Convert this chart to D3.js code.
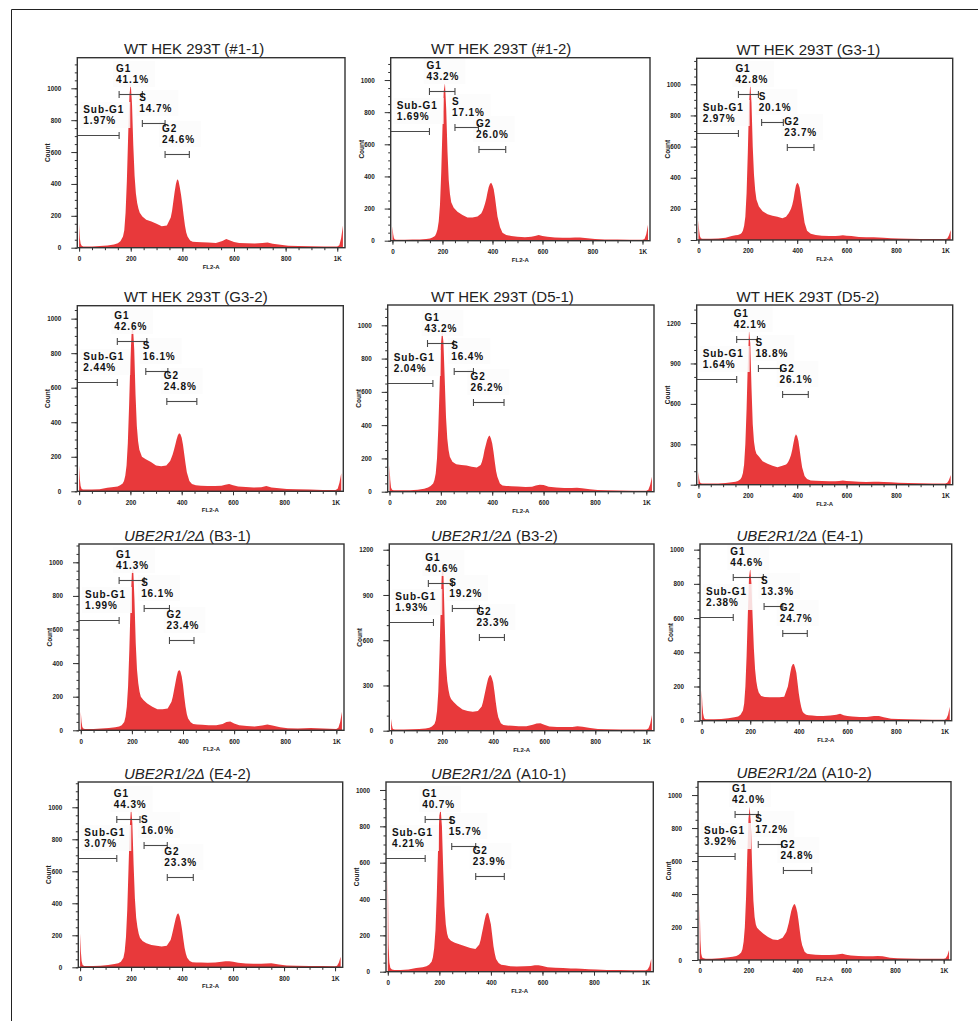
<!DOCTYPE html>
<html lang="en">
<head>
<meta charset="UTF-8">
<title>Cell cycle profiles</title>
<script src="https://cdnjs.cloudflare.com/ajax/libs/d3/7.8.5/d3.min.js"></script>
<style>
  body { margin: 0; background: #fff; font-family: "Liberation Sans", Arial, sans-serif; }
  .tick text { font-size: 6.3px; font-weight: bold; fill: #1c1c1c; }
  .tick line { stroke: #333; }
</style>
</head>
<body>
<div id="chart"></div>
<script>
// FL2-A channels shared by all the histograms
const channels = [0,3,6,10,16,25,50,80,110,135,150,160,170,175,180,185,190,195,200,205,210,215,220,225,230,235,245,260,280,300,320,340,355,360,365,370,375,380,385,390,395,400,405,410,415,420,430,440,455,475,500,530,555,570,585,600,620,650,680,710,730,750,780,810,850,900,950,1000,1008,1015,1022];

// counts
const counts_1_1 = [150,60,25,12,8, 8,8,10,14,20, 28,40,70,110,220, 420,700,960,1030,900, 640,450,340,280,245, 220,195,175,165,150, 135,140,190,230,290, 350,400,430,420,380, 330,270,200,140,95, 70,45,38,35,34, 32,30,42,55,45, 35,30,28,26,30, 32,25,18,12,10, 9,8,8,15,60, 140];
const counts_1_2 = [90,40,15,8,6, 6,6,7,8,10, 14,20,30,45,70, 120,220,420,700,930, 980,820,560,380,290, 240,205,180,160,145, 145,150,170,185,205, 230,260,300,335,355, 360,345,320,270,210, 150,85,50,35,30, 25,22,25,30,35, 30,25,20,18,18, 20,20,15,10,8, 7,6,6,10,40, 100];
const counts_G3_1 = [128,60,25,12,8, 8,8,10,15,25, 30,32,38,45,60, 90,150,300,560,880, 1006,880,600,420,320, 260,215,185,165,155, 150,140,150,160,170, 185,200,225,260,310, 350,368,360,335,280, 220,110,60,40,32, 28,25,25,28,30, 28,25,20,18,18, 16,14,12,10,8, 7,6,6,10,30, 64];
const counts_G3_2 = [152,70,30,14,10, 10,10,12,20,25, 28,35,45,60,90, 150,280,500,760,930, 955,820,560,380,290, 240,200,185,170,150, 145,150,175,195,215, 240,270,300,325,336, 330,310,270,215,160, 110,60,42,35,32, 30,30,32,38,42, 35,28,25,22,24, 30,22,18,14,12, 10,8,8,15,50, 104];
const counts_D5_1 = [160,70,25,12,8, 8,8,9,12,18, 25,35,50,70,110, 200,380,620,880,972, 900,680,450,320,250, 210,180,165,160,158, 150,145,160,180,210, 250,280,310,330,337, 320,290,240,180,125, 90,50,38,35,33, 32,28,30,38,42, 40,30,25,22,22, 24,20,15,10,8, 7,6,6,12,40, 90];
const counts_D5_2 = [96,45,18,10,8, 8,8,9,12,18, 22,28,40,55,85, 150,300,560,900,1148, 1050,720,450,320,260, 230,210,175,155,140, 130,140,150,160,175, 195,220,260,310,355, 374,360,325,260,190, 130,65,42,32,30, 28,25,25,28,32, 28,25,22,20,22, 22,20,18,14,12, 10,9,8,15,35, 72];
const counts_B3_1 = [110,50,20,10,8, 8,8,10,14,18, 22,30,50,80,140, 260,480,760,940,964, 780,520,360,280,230, 200,180,160,140,125, 125,130,170,200,240, 280,320,350,359,350, 320,270,200,140,95, 70,48,38,35,33, 30,30,38,50,52, 40,30,25,22,28, 35,28,18,12,10, 14,10,8,15,50, 110];
const counts_B3_2 = [80,40,15,10,8, 8,8,10,12,15, 20,28,45,70,130, 260,520,860,1121,1050, 720,440,330,270,230, 210,190,165,140,130, 126,130,160,190,230, 270,310,345,365,369, 350,320,260,190,130, 90,50,38,35,32, 30,30,40,48,50, 40,28,25,24,25, 30,26,18,12,10, 8,8,8,15,45, 104];
const counts_E4_1 = [180,90,40,15,8, 8,8,10,15,20, 25,35,60,100,200, 380,620,840,891,800, 600,420,300,230,190, 165,145,138,137,137, 137,140,200,240,280, 315,330,332,310,280, 220,160,115,80,55, 45,35,32,30,28, 28,30,35,40,32, 28,25,22,22,28, 28,20,12,10,8, 7,6,6,12,35, 82];
const counts_E4_2 = [212,100,40,15,8, 8,8,10,15,20, 25,35,60,100,190, 360,620,880,1004,900, 640,430,310,250,210, 185,165,150,140,135, 130,135,170,200,235, 270,305,330,337,320, 285,235,175,120,85, 60,40,32,30,30, 28,30,35,38,38, 34,28,24,22,22, 24,25,18,12,10, 8,8,7,10,30, 66];
const counts_A10_1 = [550,150,50,20,12, 10,10,12,20,25, 30,38,55,80,130, 230,420,680,860,898, 800,560,360,260,210, 185,170,160,150,140, 130,125,150,175,210, 245,280,310,325,320, 290,260,200,140,100, 70,48,38,35,30, 28,30,32,35,36, 32,25,22,20,18, 18,16,14,12,10, 9,8,8,12,30, 70];
const counts_A10_2 = [343,120,40,15,10, 8,8,10,15,20, 25,32,45,65,110, 200,380,640,860,929, 820,560,360,260,215, 195,180,160,140,125, 122,135,170,195,225, 260,295,320,335,339, 320,290,240,180,125, 90,50,38,35,32, 30,30,32,35,38, 32,28,25,22,22, 24,22,14,10,9, 8,7,7,10,28, 60];

const sampleNames = ["#1-1","#1-2","G3-1","G3-2","D5-1","D5-2","B3-1","B3-2","E4-1","E4-2","A10-1","A10-2"];
const knockout = [false,false,false,false,false,false,true,true,true,true,true,true];
const allCounts = [counts_1_1,counts_1_2,counts_G3_1,counts_G3_2,counts_D5_1,counts_D5_2,counts_B3_1,counts_B3_2,counts_E4_1,counts_E4_2,counts_A10_1,counts_A10_2];

// gate percentages
const subG1Pct = ["1.97%","1.69%","2.97%","2.44%","2.04%","1.64%","1.99%","1.93%","2.38%","3.07%","4.21%","3.92%"];
const g1Pct    = ["41.1%","43.2%","42.8%","42.6%","43.2%","42.1%","41.3%","40.6%","44.6%","44.3%","40.7%","42.0%"];
const sPct     = ["14.7%","17.1%","20.1%","16.1%","16.4%","18.8%","16.1%","19.2%","13.3%","16.0%","15.7%","17.2%"];
const g2Pct    = ["24.6%","26.0%","23.7%","24.8%","26.2%","26.1%","23.4%","23.3%","24.7%","23.3%","23.9%","24.8%"];

// gates: [from channel, to channel, count level of the marker]
const subG1Gates = [[0,155,707],[0,148,684],[0,162,685],[0,149,635],[0,169,651],[0,155,784],[0,150,657],[0,166,719],[0,130,608],[0,144,681],[0,145,627],[0,145,632]];
const g1Gates = [[155,245,962],[148,250,933],[162,243,936],[149,264,871],[148,250,892],[155,239,1079],[150,248,895],[146,240,977],[130,254,842],[144,235,925],[145,245,838],[145,240,885]];
const sGates  = [[245,333,785],[250,344,706],[256,344,760],[260,346,697],[252,327,725],[243,333,864],[248,347,726],[240,346,812],[257,334,673],[251,342,764],[248,341,691],[240,336,701]];
const g2Gates = [[333,427,588],[346,453,569],[360,468,599],[342,459,525],[327,446,537],[341,445,671],[347,443,537],[346,444,619],[334,435,511],[342,444,566],[341,452,529],[343,459,545]];

// y axis top of each panel, and which tick set it uses
const yMax = [1192,1139,1167,1075,1122,1334,1109,1238,1033,1158,1044,1081];
const yTicksA = [0,200,400,600,800,1000];
const yTicksB = [0,300,600,900,1200];
const yTickSet = ["A","A","A","A","A","B","A","B","A","A","A","A"];
const xTicks = [0,200,400,600,800,1000];
const xTickLabels = ["0","200","400","600","800","1K"];

// layout: plot frame [left, top, right, bottom] of each panel
const frames = [
  [77.3,57.7,345,247.7],[390.7,57.7,650,240.7],[696.7,58.3,952.7,240],
  [77.3,305.7,343.3,491.3],[387.7,305,654,491.7],[696.7,305,952.7,484.7],
  [79,544,344,730.3],[389.3,544,654,730.7],[700,544,951.7,720.7],
  [78.3,782,342.7,967.3],[386,782,653.3,971.7],[698,781.7,951,960]
];
const titleX = [124, 431, 736.5];

const red = "#e8393b";

const svg = d3.select("#chart").append("svg")
  .attr("width", 978).attr("height", 1021)
  .style("display", "block");

// outer border of the figure
svg.append("path").attr("d", "M11.5,1021V9.5H978")
  .attr("fill", "none").attr("stroke", "#222").attr("stroke-width", 1);

sampleNames.forEach((name, i) => {
  const [l, t, r, b] = frames[i];
  const g = svg.append("g");
  const x = d3.scaleLinear().domain([-7, 1030]).range([l, r]);
  const y = d3.scaleLinear().domain([0, yMax[i]]).range([b, t]);

  g.append("clipPath").attr("id", "clip" + i)
    .append("rect").attr("x", l).attr("y", t).attr("width", r - l).attr("height", b - t);

  // histogram
  const pts = channels.map((c, k) => [c, allCounts[i][k]]);
  const area = d3.area().x(d => x(d[0])).y0(y(0)).y1(d => y(d[1]));
  g.append("path").datum(pts)
    .attr("d", area)
    .attr("fill", red)
    .attr("clip-path", `url(#clip${i})`);

  // axes
  const yt = yTickSet[i] === "A" ? yTicksA : yTicksB;
  const yMinor = d3.range(0, yMax[i], yTickSet[i] === "A" ? 50 : 100);
  g.append("g").attr("transform", `translate(${l},0)`)
    .call(d3.axisLeft(y).tickValues(yMinor).tickSize(2.5).tickFormat(""))
    .call(a => a.select(".domain").remove());
  g.append("g").attr("transform", `translate(${l},0)`)
    .call(d3.axisLeft(y).tickValues(yt).tickSize(6).tickPadding(10).tickFormat(d3.format("d")))
    .call(a => a.select(".domain").remove());
  g.append("g").attr("transform", `translate(0,${b})`)
    .call(d3.axisBottom(x).tickValues(d3.range(0, 1001, 50)).tickSize(2.5).tickFormat(""))
    .call(a => a.select(".domain").remove());
  g.append("g").attr("transform", `translate(0,${b})`)
    .call(d3.axisBottom(x).tickValues(xTicks).tickSize(4).tickPadding(5)
      .tickFormat((d, k) => xTickLabels[k]))
    .call(a => a.select(".domain").remove());

  g.append("text")
    .attr("x", (l + r) / 2).attr("y", b + 21)
    .attr("text-anchor", "middle")
    .style("font-size", "6px").style("font-weight", "bold").style("fill", "#222")
    .text("FL2-A");
  g.append("text")
    .attr("transform", `translate(${l - 27},${(t + b) / 2}) rotate(-90)`)
    .attr("text-anchor", "middle")
    .style("font-size", "6.5px").style("font-weight", "bold").style("fill", "#222")
    .text("Count");

  // title
  const title = g.append("text")
    .attr("x", titleX[i % 3]).attr("y", t - 3.5)
    .style("font-size", "15px").style("fill", "#222");
  if (knockout[i]) {
    title.append("tspan").style("font-style", "italic").text("UBE2R1/2Δ");
    title.append("tspan").text(" (" + name + ")");
  } else {
    title.text("WT HEK 293T (" + name + ")");
  }

  // gates and their labels
  const boxes = g.append("g");
  const marks = g.append("g");
  const texts = g.append("g");
  const gates = [
    ["Sub-G1", subG1Pct[i], subG1Gates[i], true],
    ["G1", g1Pct[i], g1Gates[i], false],
    ["S", sPct[i], sGates[i], false],
    ["G2", g2Pct[i], g2Gates[i], false]
  ];
  gates.forEach(([lab, pct, gate, open]) => {
    const x1 = open ? l : x(gate[0]);
    const x2 = x(gate[1]);
    const gy = Math.round(y(gate[2])) + 0.5;
    marks.append("line").attr("x1", x1).attr("x2", x2).attr("y1", gy).attr("y2", gy)
      .attr("stroke", "#4a4a4a").attr("stroke-width", 1.1);
    if (!open) {
      marks.append("line").attr("x1", x1).attr("x2", x1).attr("y1", gy - 3.5).attr("y2", gy + 3.5)
        .attr("stroke", "#4a4a4a").attr("stroke-width", 1.1);
    }
    marks.append("line").attr("x1", x2).attr("x2", x2).attr("y1", gy - 3.5).attr("y2", gy + 3.5)
      .attr("stroke", "#4a4a4a").attr("stroke-width", 1.1);

    const lx = open ? l + 6 : x1 - 3;
    const tx = texts.append("text")
      .style("font-size", "10px").style("font-weight", "bold")
      .style("letter-spacing", "0.9px").style("fill", "#111");
    tx.append("tspan").attr("x", lx).attr("y", gy - 22.5).text(lab);
    tx.append("tspan").attr("x", lx).attr("y", gy - 11.5).text(pct);
    const bb = tx.node().getBBox();
    boxes.append("rect")
      .attr("x", bb.x - 3).attr("y", bb.y - 2)
      .attr("width", bb.width + 9).attr("height", bb.height + 4)
      .attr("fill", "#fbfbfb").attr("opacity", 0.85);
  });

  // plot frame
  g.append("rect").attr("x", l).attr("y", t).attr("width", r - l).attr("height", b - t)
    .attr("fill", "none").attr("stroke", "#333").attr("stroke-width", 1.4);
});
</script>
</body>
</html>
